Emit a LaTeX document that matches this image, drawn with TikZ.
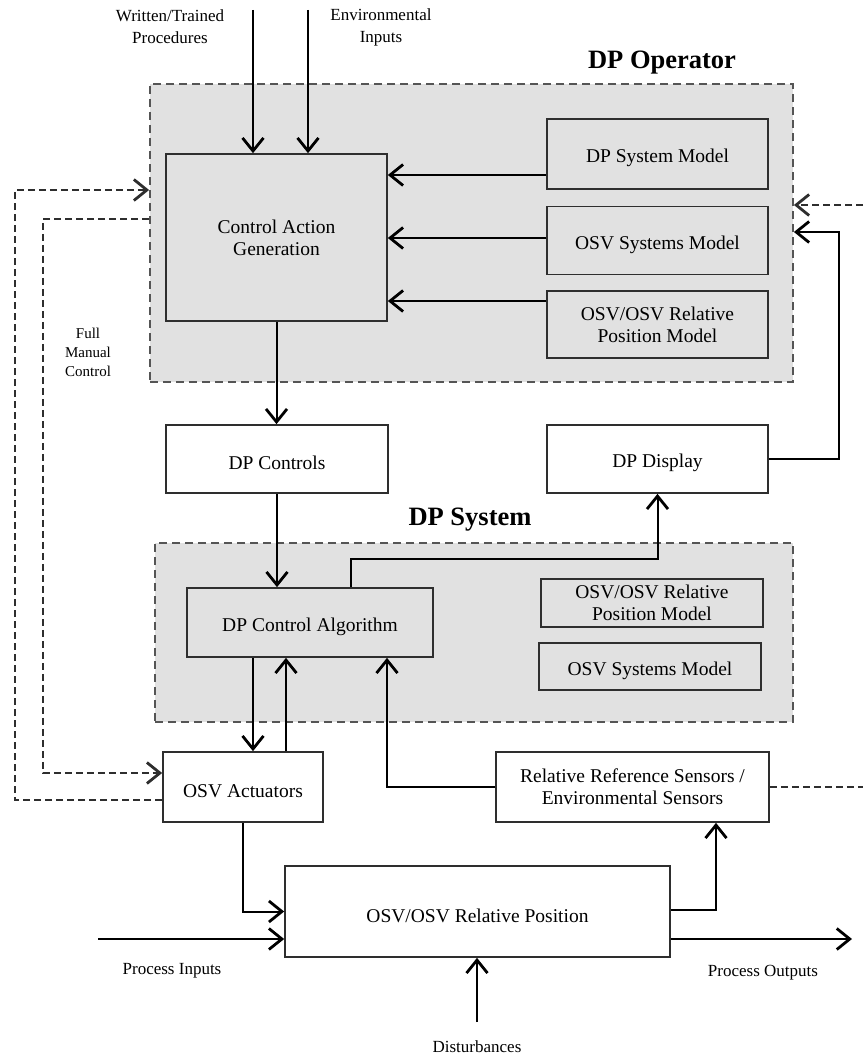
\documentclass[tikz,border=0pt]{standalone}
\usepackage{fontspec}
\setmainfont{Liberation Serif}
\usetikzlibrary{arrows.meta}

\definecolor{panel}{HTML}{E1E1E1}
\definecolor{edge}{HTML}{2E2E2E}
\definecolor{dash}{HTML}{555555}

\tikzset{
  box/.style={draw=edge, line width=1.7pt, fill=white, align=center,
    inner sep=0pt, font=\fontsize{19.5}{22}\selectfont,
    execute at begin node={\rule{0pt}{22pt}}},
  gbox/.style={box, fill=panel},
  region/.style={draw=dash, line width=1.8pt, dash pattern=on 8pt off 5pt,
    fill=panel, inner sep=0pt},
  title/.style={font=\fontsize{26.5}{30}\selectfont\bfseries},
  lbl/.style={align=center, font=\fontsize{17}{22}\selectfont},
  tip/.style={-{Straight Barb[length=13pt,width=21pt,line width=2.8pt]}},
  arr/.style={draw=black, line width=2pt, tip},
  darr/.style={draw=edge, line width=2pt, dash pattern=on 7pt off 4pt, tip},
  dline/.style={draw=edge, line width=2pt, dash pattern=on 7pt off 4pt},
}

\begin{document}
\begin{tikzpicture}[x=1pt, y=-1pt]
\useasboundingbox (0,0) rectangle (863,1057);

% ---- operator and system groups
\node[region, minimum width=643pt, minimum height=298pt] (op) at (471.5,233) {};
\node[title] (optitle) at (662,63) {DP Operator};
\node[region, minimum width=638pt, minimum height=179pt] (sys) at (474,632.5) {};
\node[title] (systitle) at (470,520) {DP System};

% ---- operator contents
\node[gbox, minimum width=221pt, minimum height=167pt] (cag) at (276.5,237.5) {Control Action\\Generation};
\node[gbox, minimum width=221pt, minimum height=70pt] (dpsm) at (657.5,154) {DP System Model};
\node[gbox, minimum width=221pt, minimum height=68pt] (osm1) at (657.5,240.5) {OSV Systems Model};
\node[gbox, minimum width=221pt, minimum height=67pt] (orpm1) at (657.5,324.5) {OSV/OSV Relative\\Position Model};

% ---- middle boxes
\node[box, minimum width=222pt, minimum height=68pt] (dpc) at (277,459) {DP Controls};
\node[box, minimum width=221pt, minimum height=68pt] (dpd) at (657.5,459) {DP Display};

% ---- system contents
\node[gbox, minimum width=246pt, minimum height=69pt] (dca) at (310,622.5) {DP Control Algorithm};
\node[gbox, minimum width=222pt, minimum height=48pt] (orpm2) at (652,603) {OSV/OSV Relative\\Position Model};
\node[gbox, minimum width=222pt, minimum height=47pt] (osm2) at (650,666.5) {OSV Systems Model};

% ---- plant level
\node[box, minimum width=160pt, minimum height=70pt] (act) at (243,787) {OSV Actuators};
\node[box, minimum width=273pt, minimum height=70pt] (rrs) at (632.5,787) {Relative Reference Sensors /\\Environmental Sensors};
\node[box, minimum width=385pt, minimum height=91pt] (pos) at (477.5,911.5) {OSV/OSV Relative Position};

% ---- free labels
\node[lbl] (wtp) at (170,27) {Written/Trained\\Procedures};
\node[lbl] (envi) at (381,27) {Environmental\\Inputs};
\node[lbl, font=\fontsize{15}{19}\selectfont] (fmc) at (88,352) {Full\\Manual\\Control};
\node[lbl] (pin) at (172,971) {Process Inputs};
\node[lbl] (pout) at (763,973) {Process Outputs};
\node[lbl] (dist) at (477,1047) {Disturbances};

% ---- free ends
\coordinate (wtpin) at (253,10);
\coordinate (envin) at (308,10);
\coordinate (extin) at (863,205);
\coordinate (extout) at (863,787);
\coordinate (pinstart) at (98,939);
\coordinate (poutend) at (852,939);
\coordinate (diststart) at (477,1022);

% ---- inputs to control action generation
\draw[arr] (wtpin) -- (wtpin |- cag.north);
\draw[arr] (envin) -- (envin |- cag.north);
\draw[arr] ([yshift=-21pt]dpsm.west) -- ([yshift=-21pt]dpsm.west -| cag.east);
\draw[arr] ([yshift=2.5pt]osm1.west) -- ([yshift=2.5pt]osm1.west -| cag.east);
\draw[arr] ([yshift=23.5pt]orpm1.west) -- ([yshift=23.5pt]orpm1.west -| cag.east);

% ---- operator loop
\draw[arr] (cag.south) -- (cag.south |- dpc.north);
\draw[arr] (dpc.south) -- (dpc.south |- dca.north);
\draw[arr] ([xshift=41pt]dca.north) -- ++(0,-28) -| (dpd.south);
\draw[arr] (dpd.east) -- ++(70,0) |- ([yshift=1pt]op.east);
\draw[darr] (extin) -- ([yshift=28pt]op.east);

% ---- system to actuators and sensors
\draw[arr] ([xshift=-57pt]dca.south) -- ([xshift=10pt]act.north);
\draw[arr] ([xshift=43pt]act.north) -- ([xshift=-24pt]dca.south);
\draw[arr] (rrs.west) -| ([xshift=77pt]dca.south);
\draw[dline] (rrs.east) -- (extout);

% ---- full manual control
\draw[darr] ([yshift=-13pt]act.west) -| (15,190) -- ([yshift=43pt]op.west);
\draw[darr] ([yshift=14pt]op.west) -| (43,773) -- ([yshift=14pt]act.west);

% ---- process
\draw[arr] (act.south) |- (pos.west);
\draw[arr] (pinstart) -- (pinstart -| pos.west);
\draw[arr] ([yshift=1.5pt]pos.east) -| ([xshift=83.5pt]rrs.south);
\draw[arr] (poutend -| pos.east) -- (poutend);
\draw[arr] (diststart) -- (diststart |- pos.south);

\end{tikzpicture}
\end{document}
